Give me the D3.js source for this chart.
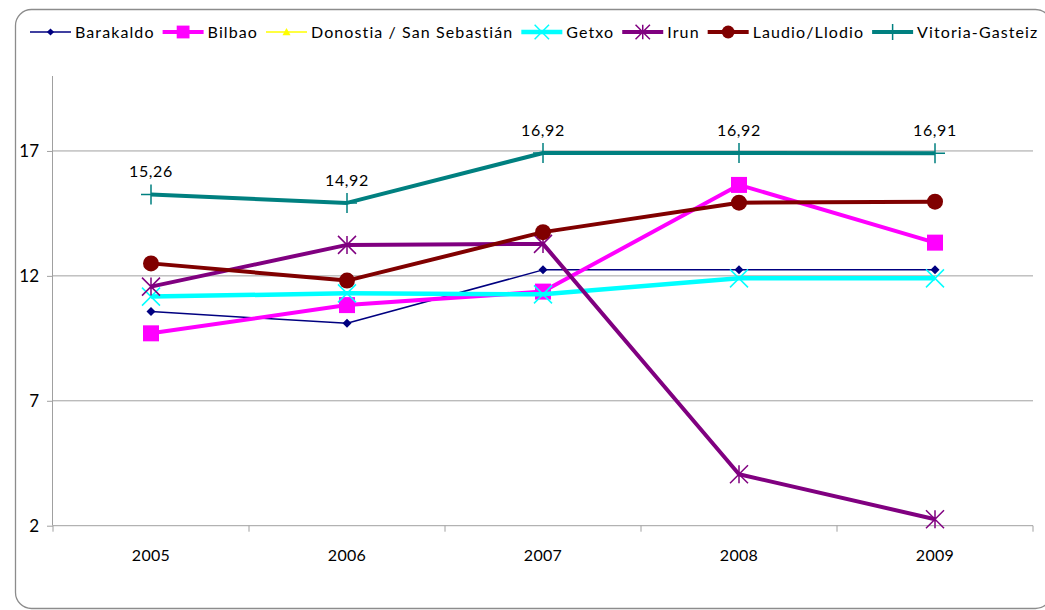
<!DOCTYPE html>
<html><head><meta charset="utf-8">
<script src="https://cdn.jsdelivr.net/npm/d3@7"></script>
<style>
html,body{margin:0;padding:0;background:#fff;}
svg{display:block;font-family:Lato,"Open Sans",sans-serif;}
</style></head>
<body><svg id="chart" width="1045" height="610"></svg>
<script>
const years = ["2005","2006","2007","2008","2009"];
const yTicks = [2, 7, 12, 17];
const seriesNames = ["Barakaldo","Bilbao","Donostia / San Sebastián","Getxo","Irun","Laudio/Llodio","Vitoria-Gasteiz"];
const barakaldo = [10.57, 10.10, 12.24, 12.24, 12.24];
const bilbao = [9.70, 10.83, 11.37, 15.64, 13.33];
const donostia = [null, null, null, null, null];
const getxo = [11.17, 11.30, 11.26, 11.90, 11.90];
const irun = [11.57, 13.24, 13.28, 4.06, 2.26];
const laudio = [12.50, 11.81, 13.75, 14.93, 14.97];
const vitoria = [15.26, 14.92, 16.92, 16.92, 16.91];
const vitoriaLabels = ["15,26","14,92","16,92","16,92","16,91"];

const styles = [
  {color:"#000080", width:1.5, marker:"diamond", size:9},
  {color:"#FF00FF", width:4, marker:"square", size:16},
  {color:"#FFFF00", width:1.5, marker:"triangle", size:10},
  {color:"#00FFFF", width:4.5, marker:"x", size:18},
  {color:"#800080", width:4, marker:"asterisk", size:18},
  {color:"#800000", width:4, marker:"circle", size:16},
  {color:"#008080", width:4, marker:"plus", size:20}
];
const seriesData = [barakaldo, bilbao, donostia, getxo, irun, laudio, vitoria];

const svg = d3.select("#chart");
// chart border
svg.append("rect").attr("x",15.5).attr("y",9.5).attr("width",1036).attr("height",599)
  .attr("rx",16).attr("ry",16).attr("fill","none").attr("stroke","#8c8c8c").attr("stroke-width",1.3);

const pLeft = 53, pRight = 1033, pTop = 76, pBottom = 525.7;
const x = d3.scaleBand().domain(years).range([pLeft, pRight]).padding(0);
const y = d3.scaleLinear().domain([2, 20]).range([pBottom, pTop]);

// gridlines
svg.append("g").selectAll("line").data(yTicks.filter(d => d > 2)).join("line")
  .attr("x1", pLeft).attr("x2", pRight).attr("y1", d => y(d)).attr("y2", d => y(d))
  .attr("stroke", "#a0a0a0").attr("stroke-width", 1);

// y axis
const yAxis = svg.append("g").attr("transform", `translate(${pLeft},0)`)
  .call(d3.axisLeft(y).tickValues(yTicks).tickSize(6).tickPadding(8).tickFormat(d3.format("d")));
yAxis.select(".domain").attr("stroke", "#a0a0a0").attr("d", `M-0.5,${y(20)}V${pBottom}`);
yAxis.selectAll(".tick line").attr("stroke", "#a0a0a0");
yAxis.selectAll("text").attr("font-size", 17).attr("fill", "#000").attr("font-family","Lato");

// x axis
const xAxis = svg.append("g").attr("transform", `translate(0,${pBottom})`)
  .call(d3.axisBottom(x).tickSize(0).tickPadding(24));
xAxis.select(".domain").attr("stroke", "#a0a0a0").attr("d", `M${pLeft},0H${pRight}`);
xAxis.selectAll("text").attr("font-size", 16).attr("fill", "#000").attr("font-family","Lato")
  .attr("letter-spacing", 0.3);
const edges = years.map(d => x(d)).concat([x(years[years.length-1]) + x.bandwidth()]);
svg.append("g").selectAll("line").data(edges).join("line")
  .attr("x1", d => d).attr("x2", d => d).attr("y1", pBottom).attr("y2", pBottom + 6)
  .attr("stroke", "#a0a0a0");

function drawMarker(g, type, cx, cy, size, color) {
  const h = size / 2;
  if (type === "diamond") {
    g.append("path").attr("d", `M${cx},${cy-h}L${cx+h},${cy}L${cx},${cy+h}L${cx-h},${cy}Z`).attr("fill", color);
  } else if (type === "square") {
    g.append("rect").attr("x", cx-h).attr("y", cy-h).attr("width", size).attr("height", size).attr("fill", color);
  } else if (type === "triangle") {
    g.append("path").attr("d", `M${cx},${cy-h}L${cx+h},${cy+h*0.8}L${cx-h},${cy+h*0.8}Z`).attr("fill", color);
  } else if (type === "circle") {
    g.append("circle").attr("cx", cx).attr("cy", cy).attr("r", h).attr("fill", color);
  } else if (type === "x") {
    g.append("path").attr("d", `M${cx-h},${cy-h}L${cx+h},${cy+h}M${cx-h},${cy+h}L${cx+h},${cy-h}`)
      .attr("stroke", color).attr("stroke-width", 1.5).attr("fill","none");
  } else if (type === "asterisk") {
    g.append("path").attr("d", `M${cx-h},${cy-h}L${cx+h},${cy+h}M${cx-h},${cy+h}L${cx+h},${cy-h}M${cx},${cy-h}L${cx},${cy+h}`)
      .attr("stroke", color).attr("stroke-width", 1.5).attr("fill","none");
  } else if (type === "plus") {
    g.append("path").attr("d", `M${cx-h},${cy}L${cx+h},${cy}M${cx},${cy-h}L${cx},${cy+h}`)
      .attr("stroke", color).attr("stroke-width", 1.5).attr("fill","none");
  }
}

const cx = d => x(d) + x.bandwidth() / 2;
const line = d3.line().defined(d => d.v != null).x(d => cx(d.year)).y(d => y(d.v));

seriesData.forEach((vals, i) => {
  const st = styles[i];
  const pts = years.map((yr, j) => ({year: yr, v: vals[j]}));
  const g = svg.append("g");
  g.append("path").datum(pts).attr("d", line).attr("fill", "none")
    .attr("stroke", st.color).attr("stroke-width", st.width).attr("stroke-linejoin","round");
  pts.filter(p => p.v != null).forEach(p => drawMarker(g, st.marker, cx(p.year), y(p.v), st.size, st.color));
});

// data labels for Vitoria-Gasteiz
svg.append("g").selectAll("text").data(years).join("text")
  .attr("x", d => cx(d)).attr("y", (d, j) => y(vitoria[j]) - 17)
  .attr("text-anchor", "middle").attr("font-size", 16).attr("fill", "#000")
  .attr("letter-spacing", 0.6)
  .text((d, j) => vitoriaLabels[j]);

// legend
const legend = svg.append("g");
let lx = 30;
const ly = 32;
seriesNames.forEach((name, i) => {
  const st = styles[i];
  const g = legend.append("g");
  g.append("line").attr("x1", lx).attr("x2", lx + 41).attr("y1", ly).attr("y2", ly)
    .attr("stroke", st.color).attr("stroke-width", st.width);
  drawMarker(g, st.marker, lx + 20.5, ly, st.size * 0.8, st.color);
  const t = g.append("text").attr("x", lx + 45).attr("y", ly + 6).attr("font-size", 16)
    .attr("letter-spacing", 1.1).attr("fill", "#000").text(name);
  lx += 45 + t.node().getComputedTextLength() + 8;
});
</script></body></html>
